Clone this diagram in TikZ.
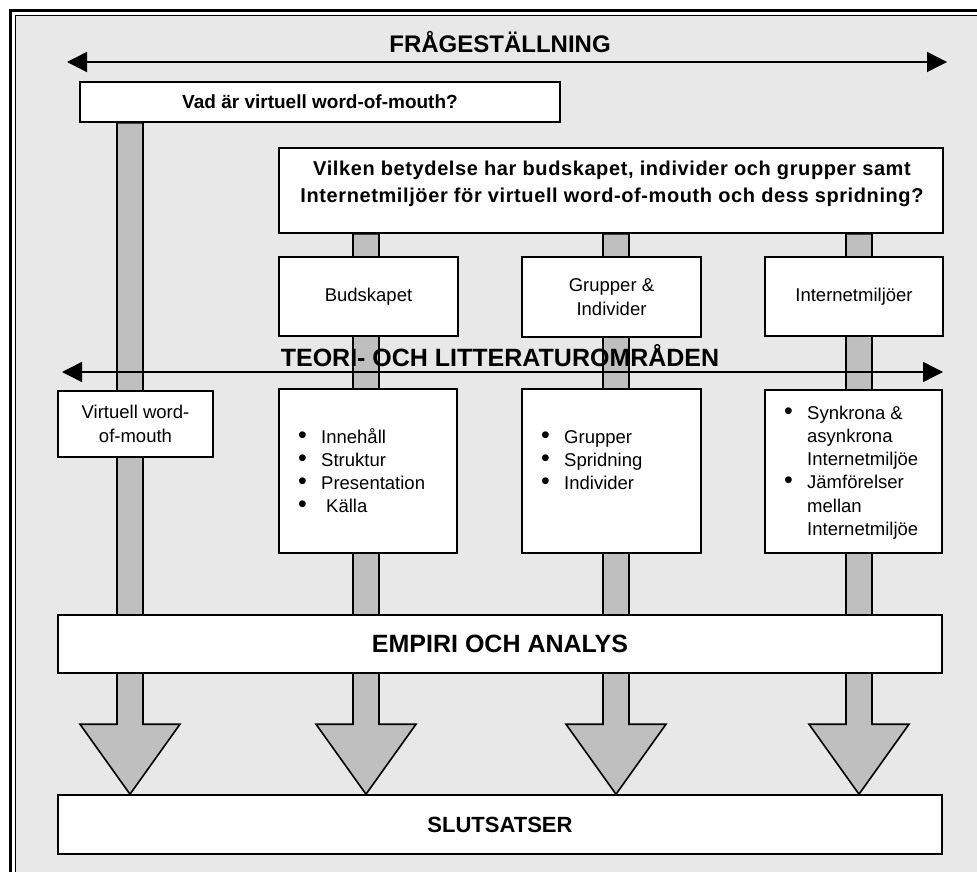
\documentclass[tikz,border=0pt]{standalone}
\usepackage{fontspec}
\setmainfont{Liberation Sans}
\usetikzlibrary{arrows.meta,calc}

\pgfdeclarelayer{back}
\pgfsetlayers{back,main}

\definecolor{framegray}{gray}{0.91}
\definecolor{shaftgray}{gray}{0.75}

\tikzset{
  box/.style={draw, line width=1.6pt, fill=white, inner sep=0pt, align=center},
  heading/.style={font=\fontsize{24}{28}\selectfont\bfseries},
  question/.style={font=\fontsize{19}{25}\selectfont\bfseries},
  bodytext/.style={font=\fontsize{18.5}{23.3}\selectfont},
  shaft/.style={draw, line width=1.6pt, fill=shaftgray, line join=miter},
  span/.style={line width=1.4pt, {Triangle[length=20pt,width=20pt]}-{Triangle[length=20pt,width=20pt]}},
}
\newcommand{\bul}{\makebox[23pt][l]{\fontsize{25}{25}\selectfont\textbullet}}
\newcommand{\gap}{\hspace*{23pt}}
\newcommand{\lst}[1]{\parbox[t]{160pt}{\raggedright #1}}

\begin{document}
\begin{tikzpicture}[x=1pt,y=-1pt]
\useasboundingbox (0,0) rectangle (977,872);

% questions
\node[box, question, minimum width=480pt, minimum height=40pt] (vad) at (320,102) {Vad är virtuell word-of-mouth?};
\node[box, minimum width=664pt, minimum height=85pt] (fraga) at (611,190.5) {};
\node[question, font=\fontsize{20}{27}\selectfont\bfseries\addfontfeature{LetterSpace=3}, align=center] (fragatxt) at (612,184)
  {Vilken betydelse har budskapet, individer och grupper samt\\Internetmiljöer för virtuell word-of-mouth och dess spridning?};

% areas
\node[box, bodytext, minimum width=179pt, minimum height=79pt] (bud) at (368.5,296.5) {Budskapet};
\node[box, bodytext, minimum width=179pt, minimum height=80pt] (grp) at (611.5,297) {Grupper \&\\Individer};
\node[box, bodytext, minimum width=178pt, minimum height=79pt] (inet) at (854,296.5) {Internetmiljöer};

% theory boxes
\node[box, bodytext, minimum width=155pt, minimum height=66pt] (vwom) at (135.5,424) {Virtuell word-\\of-mouth};
\node[box, minimum width=178pt, minimum height=164pt] (budbox) at (368,471) {};
\node[box, minimum width=179pt, minimum height=164pt] (grpbox) at (611.5,471) {};
\node[box, minimum width=177pt, minimum height=163pt] (inetbox) at (853.5,471.5) {};
\node[bodytext, anchor=base west, inner sep=0pt] (budlst) at (298,443)
  {\lst{\bul Innehåll\\ \bul Struktur\\ \bul Presentation\\ \bul\hspace{5pt}Källa}};
\node[bodytext, anchor=base west, inner sep=0pt] (grplst) at (541,443)
  {\lst{\bul Grupper\\ \bul Spridning\\ \bul Individer}};
\node[bodytext, anchor=base west, inner sep=0pt] (inetlst) at (784,419)
  {\lst{\bul Synkrona \&\\ \gap asynkrona\\ \gap Internetmiljöe\\ \bul Jämförelser\\ \gap mellan\\ \gap Internetmiljöe}};

% empiri and conclusions
\node[box, font=\fontsize{25}{29}\selectfont\bfseries, minimum width=884pt, minimum height=58pt] (emp) at (500,644) {EMPIRI OCH ANALYS};
\node[box, font=\fontsize{22}{26}\selectfont\bfseries, minimum width=884pt, minimum height=59pt] (slut) at (500,824.5) {SLUTSATSER};

% spanning arrows
\node[heading] (fragetitle) at (500,42) {FRÅGESTÄLLNING};
\coordinate (fl) at (67,62);
\coordinate (fr) at (947,62);
\draw[span] (fl) -- (fr);
\node[font=\fontsize{25}{29}\selectfont\bfseries] (teori) at (500,356) {TEORI- OCH LITTERATUROMRÅDEN};
\coordinate (tl) at (62,372);
\coordinate (tr) at (943,372);
\draw[span] (tl) -- (tr);

% frame and shafts behind everything
\begin{pgfonlayer}{back}
\fill[framegray] (15,15) rectangle (990,890);
\draw[line width=2.5pt] (10.5,890) -- (10.5,10.5) -- (990,10.5);
\draw[line width=1.5pt] (15.5,890) -- (15.5,15.5) -- (990,15.5);
\foreach \cx/\from [count=\i] in {130/vad,366/fraga,616/fraga,859/fraga}{
  \coordinate (c\i) at (\cx,0);
  \coordinate (top\i) at (\from.south -| c\i);
  \coordinate (tip\i) at (slut.north -| c\i);
  \filldraw[shaft] ($(top\i)+(-13,0)$) -- ($(tip\i)+(-13,-70)$) -- ($(tip\i)+(-50,-70)$)
    -- (tip\i) -- ($(tip\i)+(50,-70)$) -- ($(tip\i)+(13,-70)$) -- ($(top\i)+(13,0)$) -- cycle;
}
\end{pgfonlayer}
\end{tikzpicture}
\end{document}
